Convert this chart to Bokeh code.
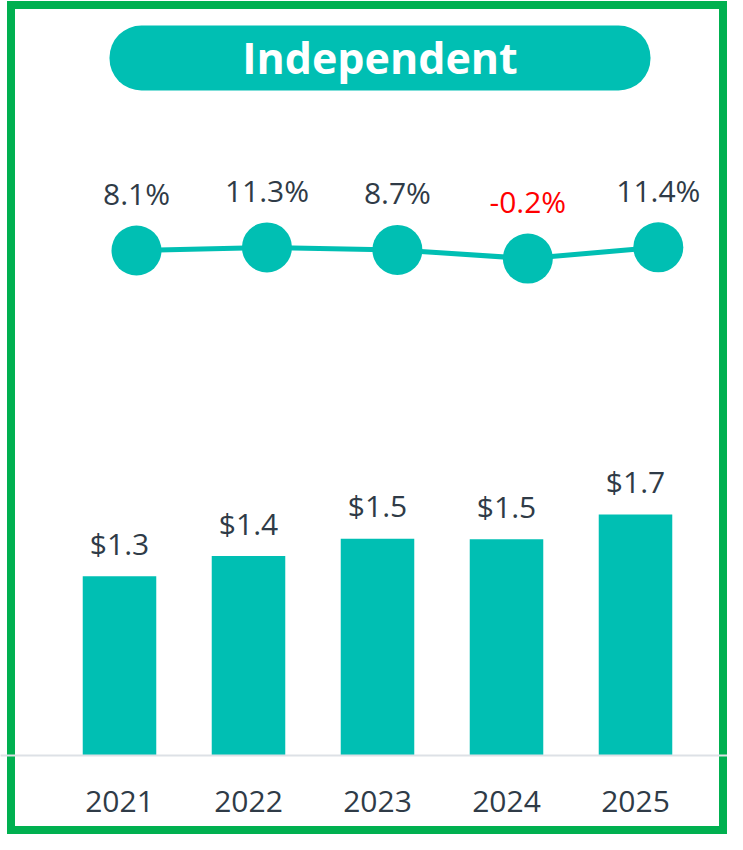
from bokeh.plotting import figure
from bokeh.models import (ColumnDataSource, Range1d, LinearAxis, FixedTicker,
                          BoxAnnotation, Label)
from bokeh.core.properties import value
from bokeh.embed import file_html
from bokeh.resources import INLINE

# ---- data ----
title = "Independent"
years = ["2021", "2022", "2023", "2024", "2025"]
revenue = [1.28, 1.425, 1.549, 1.546, 1.722]
revenue_labels = ["$1.3", "$1.4", "$1.5", "$1.5", "$1.7"]
growth = [8.1, 11.3, 8.7, -0.2, 11.4]
growth_labels = ["8.1%", "11.3%", "8.7%", "-0.2%", "11.4%"]

TEAL = "#00BFB3"
DARK = "#2F3B47"
RED = "#FF0000"
GREEN = "#00B050"
FONT = "Open Sans"

W, H = 727, 834
BOTTOM = 79
FRAME_H = H - BOTTOM

# layout scales (pixels per unit)
XS = 129.0
X0 = -119.0 / XS
YS = 139.95
GXS = 130.45
GX0 = -136.0 / GXS
GYS = 0.97
GY_END = 8.1 + 250.0 / GYS


def cx(px):
    return X0 + px / XS


def cy(py):
    return (FRAME_H - py) / YS


idx = list(range(len(years)))
src = ColumnDataSource(dict(
    x=idx, rev=revenue, rev_lbl=revenue_labels,
    g=growth, g_lbl=growth_labels,
    g_col=[RED if v < 0 else DARK for v in growth],
))

p = figure(width=W, height=H, output_backend="svg", toolbar_location=None,
           x_range=Range1d(X0, X0 + W / XS), y_range=Range1d(0, FRAME_H / YS),
           min_border_left=0, min_border_right=0, min_border_top=0,
           min_border_bottom=BOTTOM, background_fill_color=None,
           border_fill_color=None, outline_line_color=None)
p.styles = {
    "background-color": "white",
    "box-shadow": ("inset 7px 1px 0 0 white, inset 15px 9px 0 0 " + GREEN +
                   ", inset -8px -8px 0 0 " + GREEN),
}
p.extra_x_ranges = {"gx": Range1d(GX0, GX0 + W / GXS)}
p.extra_y_ranges = {"gy": Range1d(GY_END - FRAME_H / GYS, GY_END)}

p.xgrid.visible = False
p.ygrid.visible = False
p.yaxis.visible = False
p.xaxis.visible = False

# bars
p.vbar(x="x", top="rev", bottom=0, width=0.57, source=src,
       fill_color=TEAL, line_color=None)
p.text(x="x", y="rev", text="rev_lbl", source=src, y_offset=-33,
       text_align="center", text_baseline="alphabetic",
       text_font=value(FONT), text_font_size="30px", text_color=DARK)

# growth line
p.line(x="x", y="g", source=src, x_range_name="gx", y_range_name="gy",
       line_color=TEAL, line_width=5)
p.scatter(x="x", y="g", source=src, x_range_name="gx", y_range_name="gy",
          size=50, fill_color=TEAL, line_color=None)
p.text(x="x", y="g", text="g_lbl", source=src, x_range_name="gx",
       y_range_name="gy", y_offset=-57, text_align="center",
       text_baseline="alphabetic", text_font=value(FONT),
       text_font_size="30px", text_color="g_col")

# year axis
ax = LinearAxis(ticker=FixedTicker(ticks=idx),
                major_label_overrides={i: y for i, y in enumerate(years)})
ax.axis_line_color = "#DDE1E6"
ax.axis_line_width = 2
ax.major_tick_line_color = None
ax.minor_tick_line_color = None
ax.major_tick_out = 0
ax.major_tick_in = 0
ax.major_label_standoff = 35
ax.major_label_text_font = FONT
ax.major_label_text_font_size = "30px"
ax.major_label_text_color = DARK
p.add_layout(ax, "below")

# title pill
p.add_layout(BoxAnnotation(left=cx(109), right=cx(650), top=cy(25), bottom=cy(90),
                           fill_color=TEAL, fill_alpha=1.0, line_color=None,
                           border_radius=32))
p.add_layout(Label(x=cx(379.5), y=cy(56.7), text=title, text_align="center",
                   text_baseline="alphabetic", text_font=FONT,
                   text_font_style="bold", text_font_size="43px",
                   text_color="white"))

open("out.html", "w").write(file_html(p, INLINE))
